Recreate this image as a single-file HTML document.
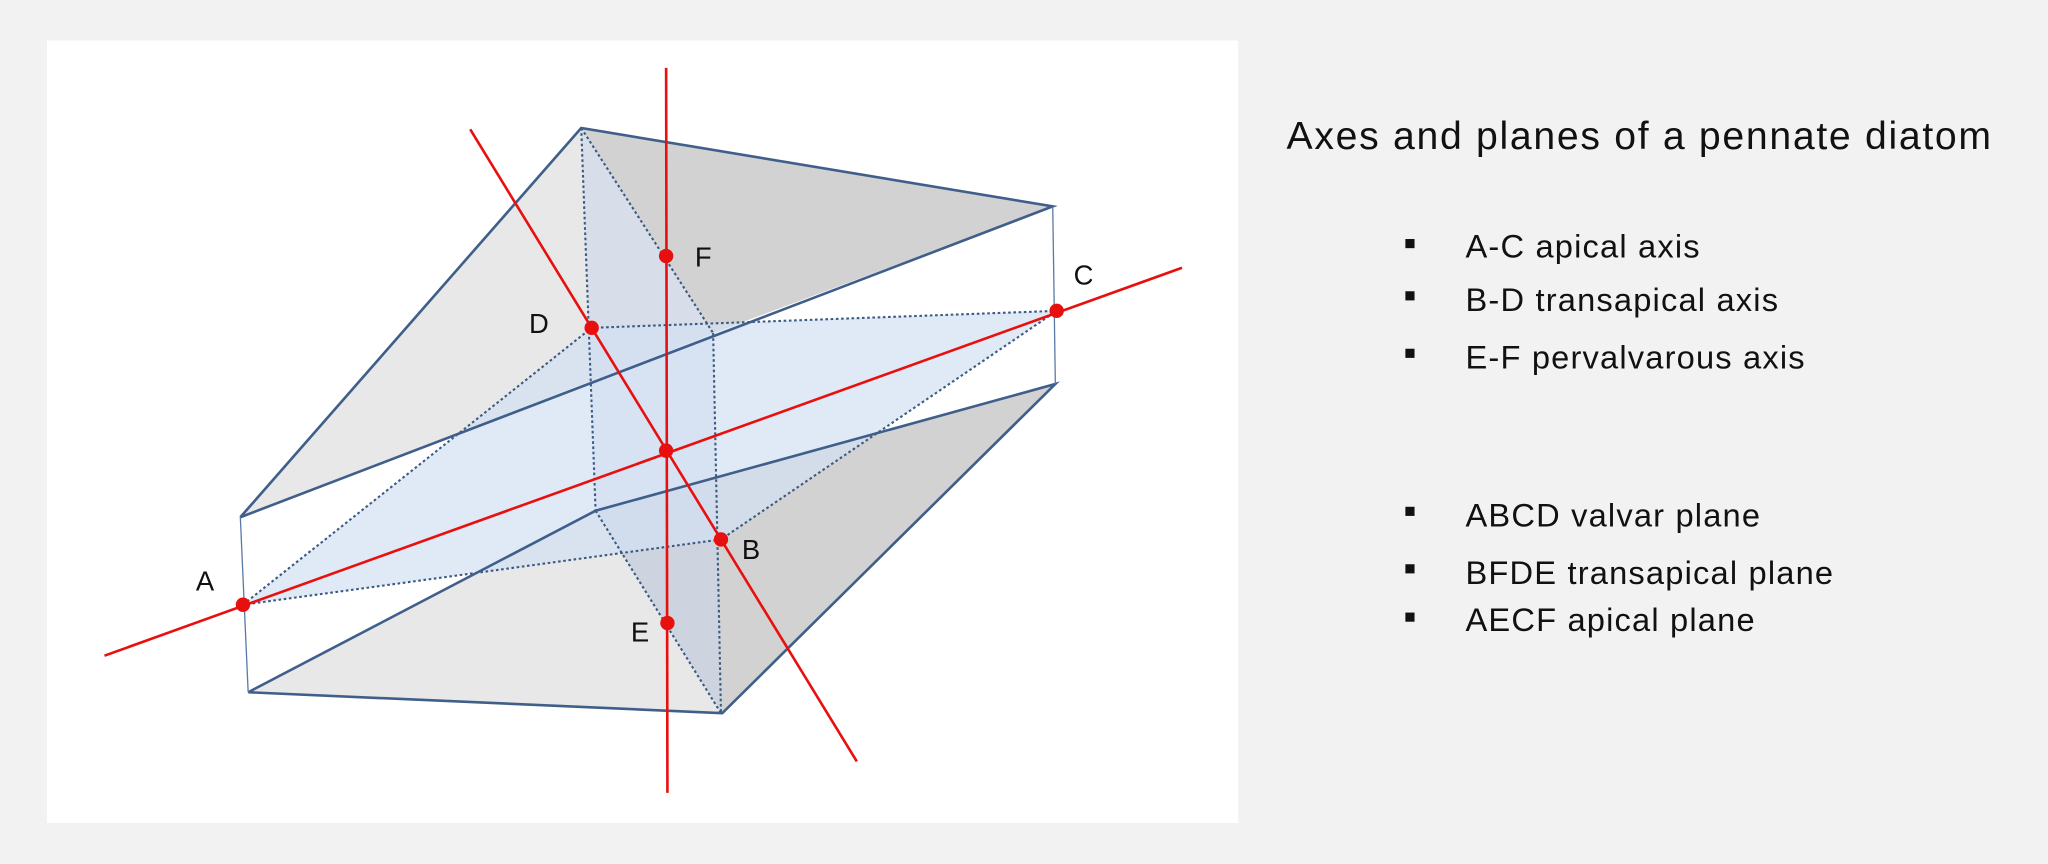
<!DOCTYPE html>
<html><head><style>
html,body{margin:0;padding:0;background:#f2f2f2;}
svg{display:block}
</style></head><body>
<svg width="2048" height="864" viewBox="0 0 1568 661.5" preserveAspectRatio="none" xmlns="http://www.w3.org/2000/svg">
<rect x="0" y="0" width="1568" height="661.5" fill="#f2f2f2"/>
<rect x="36" y="31" width="912" height="599" fill="#fff"/>
<!-- upper face -->
<polygon points="445,98 184,396 546,255" fill="#e8e8e8"/>
<polygon points="445,98 806,158 546,255" fill="#d2d2d2"/>
<!-- lower face -->
<polygon points="190,530 456,391 553,546" fill="#e8e8e8"/>
<polygon points="456,391 808,294 553,546" fill="#d2d2d2"/>
<!-- transapical plane -->
<polygon points="445,98 546,255 552,546 456,391" fill="#c9d6ea" opacity="0.55"/>
<!-- valvar plane -->
<polygon points="186,463 453,251 809,238 552,413" fill="#d3e0f2" opacity="0.7"/>
<g stroke="#3a5a80" stroke-width="1.6" stroke-dasharray="2,2" fill="none">
<line x1="445" y1="98" x2="456" y2="391"/>
<line x1="445" y1="98" x2="546" y2="255"/>
<line x1="546" y1="255" x2="552" y2="546"/>
<line x1="456" y1="391" x2="552" y2="546"/>
<polyline points="186,463 453,251 809,238 552,413 186,463"/>
</g>
<g stroke="#3f5f8a" stroke-width="2" fill="none">
<polyline points="184,396 445,98 806,158 184,396"/>
<polyline points="190,530 553,546 808,294 456,391 190,530"/>
</g>
<g stroke="#5a7aa6" stroke-width="1" fill="none">
<line x1="184" y1="396" x2="190" y2="530"/>
<line x1="806" y1="158" x2="808" y2="294"/>
</g>
<g stroke="#e8100f" stroke-width="2" fill="none">
<line x1="510" y1="52" x2="511" y2="607"/>
<line x1="360" y1="99" x2="656" y2="583"/>
<line x1="80" y1="502" x2="905" y2="205"/>
</g>
<g fill="#e8100f">
<circle cx="186" cy="463" r="5.5"/>
<circle cx="809" cy="238" r="5.5"/>
<circle cx="453" cy="251" r="5.5"/>
<circle cx="552" cy="413" r="5.5"/>
<circle cx="510" cy="196" r="5.5"/>
<circle cx="511" cy="477" r="5.5"/>
<circle cx="510" cy="345" r="5.5"/>
</g>
<g font-family="Liberation Sans, sans-serif" font-size="21" fill="#111">
<text x="150" y="452">A</text>
<text x="822" y="218">C</text>
<text x="405" y="255">D</text>
<text x="568" y="428">B</text>
<text x="532" y="204">F</text>
<text x="483" y="491">E</text>
</g>
<g font-family="Liberation Sans, sans-serif" fill="#111">
<text x="985" y="114" font-size="30" letter-spacing="1.3">Axes and planes of a pennate diatom</text>
<g font-size="25" letter-spacing="0.9">
<text x="1122" y="197">A-C apical axis</text>
<text x="1122" y="238">B-D transapical axis</text>
<text x="1122" y="282">E-F pervalvarous axis</text>
<text x="1122" y="403">ABCD valvar plane</text>
<text x="1122" y="447">BFDE transapical plane</text>
<text x="1122" y="483">AECF apical plane</text>
</g>
<rect x="1076" y="183" width="7" height="7"/>
<rect x="1076" y="223" width="7" height="7"/>
<rect x="1076" y="267" width="7" height="7"/>
<rect x="1076" y="388" width="7" height="7"/>
<rect x="1076" y="432" width="7" height="7"/>
<rect x="1076" y="469" width="7" height="7"/>
</g>
</svg>
</body></html>
